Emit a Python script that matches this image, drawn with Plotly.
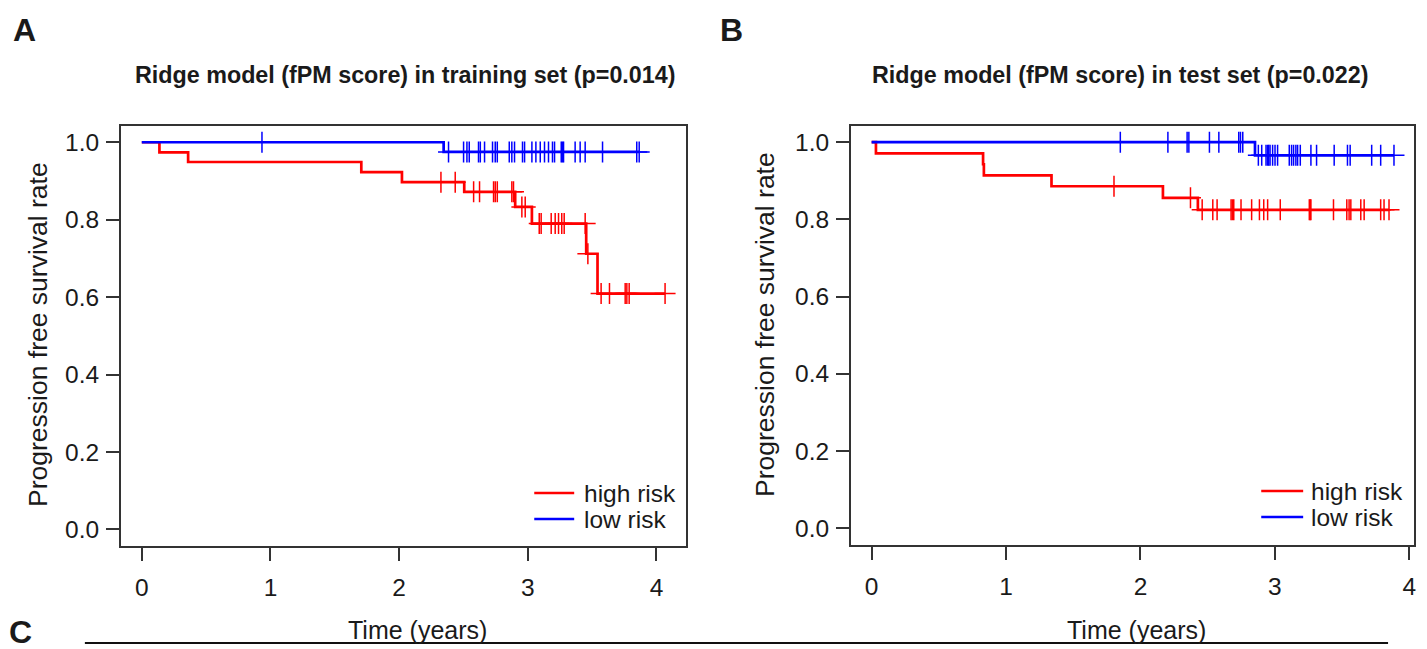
import numpy as np
import plotly.graph_objects as go

W, H = 1427, 649

# ---- Kaplan-Meier data (times in years) ----
# Panel A: training set
a_high_event_t = [0.137, 0.360, 1.706, 2.022, 2.506, 2.902, 3.032, 3.454, 3.542]
a_high_event_s = [0.974, 0.949, 0.923, 0.897, 0.872, 0.833, 0.790, 0.712, 0.609]
a_high_censor = [2.325, 2.436, 2.579, 2.625, 2.734, 2.747, 2.763, 2.876, 2.889,
                 2.954, 2.980, 3.089, 3.104, 3.182, 3.213, 3.239, 3.264, 3.283,
                 3.446, 3.467, 3.570, 3.635, 3.757, 3.770, 3.788, 4.067]
a_low_event_t = [2.346]
a_low_event_s = [0.975]
a_low_censor = [0.934, 2.384, 2.501, 2.527, 2.545, 2.617, 2.631, 2.664, 2.726,
                2.747, 2.763, 2.856, 2.876, 2.897, 2.959, 2.975, 3.032, 3.063,
                3.097, 3.130, 3.161, 3.192, 3.208, 3.260, 3.270, 3.278, 3.368,
                3.407, 3.446, 3.581, 3.847, 3.866]

# Panel B: test set
b_high_event_t = [0.032, 0.829, 0.835, 1.338, 2.167, 2.427]
b_high_event_s = [0.971, 0.943, 0.914, 0.886, 0.856, 0.825]
b_high_censor = [1.803, 2.372, 2.459, 2.538, 2.570, 2.674, 2.684, 2.694, 2.748,
                 2.827, 2.885, 2.917, 2.946, 3.040, 3.256, 3.263, 3.268, 3.436,
                 3.535, 3.552, 3.565, 3.639, 3.664, 3.787, 3.812, 3.849]
b_low_event_t = [2.852]
b_low_event_s = [0.966]
b_low_censor = [1.850, 2.204, 2.347, 2.360, 2.513, 2.583, 2.731, 2.744, 2.761,
                2.877, 2.902, 2.934, 2.946, 2.954, 2.964, 2.983, 3.001, 3.020,
                3.107, 3.124, 3.139, 3.156, 3.169, 3.189, 3.268, 3.310, 3.441,
                3.540, 3.560, 3.720, 3.787, 3.886]

group_names = ["high risk", "low risk"]
group_colors = ["#FF0000", "#0000FF"]
y_ticks = [0.0, 0.2, 0.4, 0.6, 0.8, 1.0]
x_ticks = [0, 1, 2, 3, 4]
titles = ["Ridge model (fPM score) in training set (p=0.014)",
          "Ridge model (fPM score) in test set (p=0.022)"]

FONT = "Liberation Sans, Arial, sans-serif"
AXC = "#333333"


def px_x(p):
    return p / W


def px_y(p):
    return 1 - p / H


def km_step(ev_t, ev_s, cens):
    end = max(max(cens), max(ev_t))
    xs = [0.0] + list(ev_t) + [end]
    ys = [1.0] + list(ev_s) + [ev_s[-1]]
    return xs, ys


def surv_at(ev_t, ev_s, t):
    idx = np.searchsorted(np.array(ev_t), t, side="right")
    return 1.0 if idx == 0 else ev_s[idx - 1]


fig = go.Figure()

panels = [
    dict(groups=[(a_high_event_t, a_high_event_s, a_high_censor),
                 (a_low_event_t, a_low_event_s, a_low_censor)],
         xa="x", ya="y", xr=[-0.163, 4.23],
         xdom=[px_x(121), px_x(687)], ydom=[px_y(546), px_y(126)]),
    dict(groups=[(b_high_event_t, b_high_event_s, b_high_censor),
                 (b_low_event_t, b_low_event_s, b_low_censor)],
         xa="x2", ya="y2", xr=[-0.155, 4.035],
         xdom=[px_x(852), px_x(1416)], ydom=[px_y(545), px_y(126)]),
]

for p in panels:
    for (ev_t, ev_s, cens), name, col in zip(p["groups"], group_names, group_colors):
        xs, ys = km_step(ev_t, ev_s, cens)
        fig.add_trace(go.Scatter(x=xs, y=ys, mode="lines", line=dict(color=col, width=2.7, shape="hv"),
                                 name=name, showlegend=False, xaxis=p["xa"], yaxis=p["ya"],
                                 hoverinfo="skip"))
        cy = [surv_at(ev_t, ev_s, t) for t in cens]
        fig.add_trace(go.Scatter(x=cens, y=cy, mode="markers",
                                 marker=dict(symbol="cross-thin", size=15, color=col,
                                             line=dict(color=col, width=1.5)),
                                 name=name, showlegend=False, xaxis=p["xa"], yaxis=p["ya"]))

axis_common = dict(showline=True, linecolor=AXC, linewidth=1.5, mirror=True,
                   ticks="outside", ticklen=13, tickwidth=1.5, tickcolor=AXC,
                   showgrid=False, zeroline=False,
                   tickfont=dict(family=FONT, size=24.5, color="#1a1a1a"))

layout = dict(width=W, height=H, margin=dict(l=0, r=0, t=0, b=0),
              plot_bgcolor="white", paper_bgcolor="white", showlegend=False)
for i, p in enumerate(panels):
    sfx = "" if i == 0 else "2"
    layout["xaxis" + sfx] = dict(axis_common, domain=p["xdom"], range=p["xr"],
                                 tickvals=x_ticks, ticklabelstandoff=6,
                                 anchor="y" + sfx)
    layout["yaxis" + sfx] = dict(axis_common, domain=p["ydom"], range=[-0.043, 1.042],
                                 tickvals=y_ticks, tickformat=".1f", ticklabelstandoff=2,
                                 anchor="x" + sfx)
fig.update_layout(**layout)

ann = []
shapes = []


def add_text(x, y, text, size, angle=0, xanchor="center", yanchor="middle", pad=1):
    ann.append(dict(x=px_x(x), y=px_y(y), xref="paper", yref="paper", text=text,
                    showarrow=False, textangle=angle, xanchor=xanchor, yanchor=yanchor,
                    borderpad=pad,
                    font=dict(family=FONT, size=size, color="#1a1a1a")))


# panel letters
add_text(25, 30, "<b>A</b>", 32)
add_text(733, 30, "<b>B</b>", 32)
add_text(21, 652, "<b>C</b>", 32, yanchor="bottom")

# titles
add_text(406, 75, "<b>" + titles[0] + "</b>", 23.3)
add_text(1122, 75, "<b>" + titles[1] + "</b>", 23.3)

# axis titles
add_text(38, 334, "Progression free survival rate", 26.5, angle=-90)
add_text(766, 324, "Progression free survival rate", 26.5, angle=-90)
add_text(418, 630, "Time (years)", 25)
add_text(1138, 630, "Time (years)", 25)

# legends
legend_pos = [(535, 575, 584, 493, 519), (1263, 1305, 1312, 491, 517)]
for (x0, x1, xt, y1, y2) in legend_pos:
    for name, col, yy in zip(group_names, group_colors, [y1, y2]):
        shapes.append(dict(type="line", xref="paper", yref="paper",
                           x0=px_x(x0), x1=px_x(x1), y0=px_y(yy), y1=px_y(yy),
                           line=dict(color=col, width=2.5)))
        add_text(xt, yy, name, 24.5, xanchor="left", pad=0)

# separator rule above panel C
shapes.append(dict(type="line", xref="paper", yref="paper",
                   x0=px_x(85), x1=px_x(1390), y0=px_y(643), y1=px_y(643),
                   line=dict(color="#111111", width=2)))

fig.update_layout(annotations=ann, shapes=shapes)
fig.write_html("out.html")
